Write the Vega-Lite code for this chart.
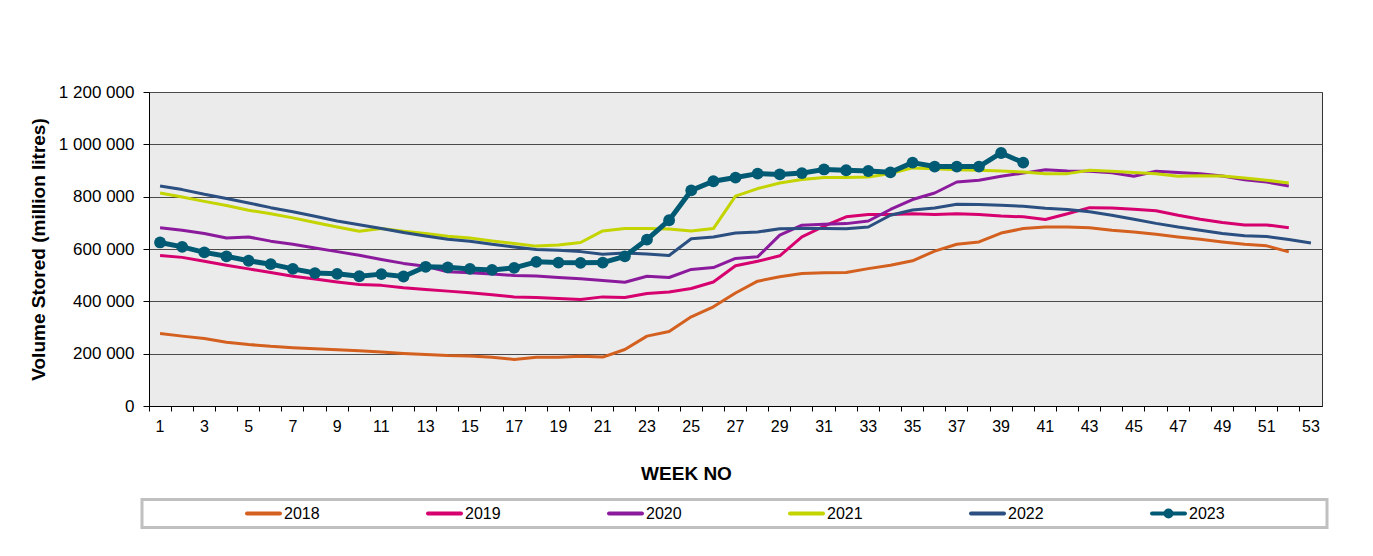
{
  "$schema": "https://vega.github.io/schema/vega-lite/v6.json",
  "width": 1173,
  "height": 314,
  "autosize": "none",
  "padding": {"left": 149, "top": 92, "right": 51, "bottom": 150},
  "background": "#ffffff",
  "config": {
    "font": "Liberation Sans",
    "view": {"fill": "#ebebeb", "stroke": "#333333", "strokeWidth": 1}
  },
  "data": {
    "values": [
      {"week": 1, "2018": 277000, "2019": 575000, "2020": 681000, "2021": 814000, "2022": 841000, "2023": 625000},
      {"week": 2, "2018": 267000, "2019": 568000, "2020": 672000, "2021": 799000, "2022": 827000, "2023": 608000},
      {"week": 3, "2018": 258000, "2019": 553000, "2020": 659000, "2021": 782000, "2022": 809000, "2023": 587000},
      {"week": 4, "2018": 244000, "2019": 538000, "2020": 642000, "2021": 766000, "2022": 793000, "2023": 572000},
      {"week": 5, "2018": 235000, "2019": 524000, "2020": 646000, "2021": 748000, "2022": 776000, "2023": 555000},
      {"week": 6, "2018": 228000, "2019": 510000, "2020": 630000, "2021": 735000, "2022": 758000, "2023": 542000},
      {"week": 7, "2018": 223000, "2019": 496000, "2020": 618000, "2021": 719000, "2022": 742000, "2023": 524000},
      {"week": 8, "2018": 219000, "2019": 485000, "2020": 604000, "2021": 701000, "2022": 725000, "2023": 508000},
      {"week": 9, "2018": 215000, "2019": 474000, "2020": 590000, "2021": 684000, "2022": 707000, "2023": 505000},
      {"week": 10, "2018": 211000, "2019": 464000, "2020": 576000, "2021": 668000, "2022": 693000, "2023": 496000},
      {"week": 11, "2018": 206000, "2019": 461000, "2020": 560000, "2021": 678000, "2022": 678000, "2023": 504000},
      {"week": 12, "2018": 201000, "2019": 452000, "2020": 545000, "2021": 668000, "2022": 663000, "2023": 495000},
      {"week": 13, "2018": 197000, "2019": 445000, "2020": 534000, "2021": 659000, "2022": 650000, "2023": 532000},
      {"week": 14, "2018": 193000, "2019": 439000, "2020": 513000, "2021": 649000, "2022": 637000, "2023": 530000},
      {"week": 15, "2018": 191000, "2019": 433000, "2020": 509000, "2021": 642000, "2022": 630000, "2023": 524000},
      {"week": 16, "2018": 186000, "2019": 425000, "2020": 504000, "2021": 631000, "2022": 618000, "2023": 520000},
      {"week": 17, "2018": 178000, "2019": 417000, "2020": 499000, "2021": 621000, "2022": 608000, "2023": 528000},
      {"week": 18, "2018": 186000, "2019": 415000, "2020": 497000, "2021": 611000, "2022": 598000, "2023": 551000},
      {"week": 19, "2018": 186000, "2019": 411000, "2020": 491000, "2021": 615000, "2022": 595000, "2023": 548000},
      {"week": 20, "2018": 190000, "2019": 407000, "2020": 486000, "2021": 625000, "2022": 590000, "2023": 547000},
      {"week": 21, "2018": 187000, "2019": 417000, "2020": 480000, "2021": 669000, "2022": 580000, "2023": 548000},
      {"week": 22, "2018": 216000, "2019": 415000, "2020": 473000, "2021": 678000, "2022": 585000, "2023": 572000},
      {"week": 23, "2018": 267000, "2019": 430000, "2020": 496000, "2021": 678000, "2022": 581000, "2023": 636000},
      {"week": 24, "2018": 285000, "2019": 436000, "2020": 491000, "2021": 676000, "2022": 575000, "2023": 710000},
      {"week": 25, "2018": 341000, "2019": 449000, "2020": 522000, "2021": 669000, "2022": 639000, "2023": 824000},
      {"week": 26, "2018": 379000, "2019": 474000, "2020": 529000, "2021": 678000, "2022": 646000, "2023": 859000},
      {"week": 27, "2018": 432000, "2019": 536000, "2020": 564000, "2021": 802000, "2022": 661000, "2023": 873000},
      {"week": 28, "2018": 477000, "2019": 553000, "2020": 570000, "2021": 831000, "2022": 665000, "2023": 888000},
      {"week": 29, "2018": 494000, "2019": 574000, "2020": 653000, "2021": 852000, "2022": 677000, "2023": 885000},
      {"week": 30, "2018": 506000, "2019": 646000, "2020": 691000, "2021": 866000, "2022": 678000, "2023": 890000},
      {"week": 31, "2018": 509000, "2019": 687000, "2020": 695000, "2021": 873000, "2022": 678000, "2023": 904000},
      {"week": 32, "2018": 510000, "2019": 723000, "2020": 697000, "2021": 873000, "2022": 677000, "2023": 901000},
      {"week": 33, "2018": 525000, "2019": 732000, "2020": 707000, "2021": 875000, "2022": 684000, "2023": 898000},
      {"week": 34, "2018": 538000, "2019": 732000, "2020": 751000, "2021": 888000, "2022": 729000, "2023": 893000},
      {"week": 35, "2018": 555000, "2019": 735000, "2020": 789000, "2021": 910000, "2022": 749000, "2023": 930000},
      {"week": 36, "2018": 592000, "2019": 732000, "2020": 814000, "2021": 907000, "2022": 757000, "2023": 915000},
      {"week": 37, "2018": 618000, "2019": 735000, "2020": 856000, "2021": 903000, "2022": 771000, "2023": 915000},
      {"week": 38, "2018": 627000, "2019": 732000, "2020": 863000, "2021": 901000, "2022": 770000, "2023": 915000},
      {"week": 39, "2018": 661000, "2019": 726000, "2020": 878000, "2021": 898000, "2022": 767000, "2023": 967000},
      {"week": 40, "2018": 678000, "2019": 723000, "2020": 890000, "2021": 894000, "2022": 763000, "2023": 930000},
      {"week": 41, "2018": 684000, "2019": 713000, "2020": 903000, "2021": 888000, "2022": 756000},
      {"week": 42, "2018": 684000, "2019": 735000, "2020": 898000, "2021": 888000, "2022": 751000},
      {"week": 43, "2018": 681000, "2019": 758000, "2020": 897000, "2021": 901000, "2022": 742000},
      {"week": 44, "2018": 672000, "2019": 757000, "2020": 891000, "2021": 897000, "2022": 729000},
      {"week": 45, "2018": 665000, "2019": 752000, "2020": 878000, "2021": 892000, "2022": 714000},
      {"week": 46, "2018": 656000, "2019": 746000, "2020": 897000, "2021": 888000, "2022": 698000},
      {"week": 47, "2018": 646000, "2019": 729000, "2020": 892000, "2021": 878000, "2022": 684000},
      {"week": 48, "2018": 637000, "2019": 714000, "2020": 888000, "2021": 880000, "2022": 672000},
      {"week": 49, "2018": 627000, "2019": 701000, "2020": 879000, "2021": 879000, "2022": 659000},
      {"week": 50, "2018": 618000, "2019": 692000, "2020": 865000, "2021": 871000, "2022": 651000},
      {"week": 51, "2018": 612000, "2019": 692000, "2020": 856000, "2021": 863000, "2022": 648000},
      {"week": 52, "2018": 589000, "2019": 681000, "2020": 841000, "2021": 852000, "2022": 636000},
      {"week": 53, "2022": 623000}
    ]
  },
  "transform": [
    {"fold": ["2018", "2019", "2020", "2021", "2022", "2023"], "as": ["year", "volume"]},
    {"filter": "datum.volume != null"}
  ],
  "encoding": {
    "x": {
      "field": "week",
      "type": "ordinal",
      "scale": {"type": "band", "paddingInner": 0, "paddingOuter": 0},
      "axis": {
        "title": "WEEK NO",
        "titleFontSize": 19,
        "titleFontWeight": "bold",
        "titleColor": "#000000",
        "titleX": 537,
        "titlePadding": 30,
        "bandPosition": 0,
        "labelAngle": 0,
        "labelOverlap": false,
        "labelExpr": "datum.value % 2 == 1 ? datum.label : ''",
        "labelFontSize": 16,
        "labelColor": "#000000",
        "labelPadding": 7,
        "tickSize": 5,
        "tickColor": "#000000",
        "domainColor": "#000000",
        "grid": false
      }
    },
    "y": {
      "field": "volume",
      "type": "quantitative",
      "scale": {"domain": [0, 1200000], "nice": false},
      "axis": {
        "title": "Volume Stored (million litres)",
        "titleFontSize": 19,
        "titleFontWeight": "bold",
        "titleColor": "#000000",
        "titlePadding": 10,
        "values": [0, 200000, 400000, 600000, 800000, 1000000, 1200000],
        "labelExpr": "replace(format(datum.value, ','), regexp(',', 'g'), ' ')",
        "labelFontSize": 17,
        "labelColor": "#000000",
        "labelPadding": 9,
        "tickSize": 6,
        "tickColor": "#000000",
        "domainColor": "#000000",
        "grid": true,
        "gridColor": "#4a4a4a",
        "gridWidth": 1
      }
    }
  },
  "layer": [
    {
      "mark": {"type": "line", "strokeJoin": "round"},
      "encoding": {
        "color": {
          "field": "year",
          "type": "nominal",
          "scale": {
            "domain": ["2018", "2019", "2020", "2021", "2022", "2023"],
            "range": ["#d4601f", "#d6006f", "#8b1b9c", "#c3d400", "#2a4f80", "#005a73"]
          },
          "legend": {
            "orient": "none",
            "legendX": -7,
            "legendY": 407.5,
            "direction": "horizontal",
            "columns": 6,
            "title": ".",
            "titleOrient": "right",
            "titleColor": "#ffffff",
            "titleFontSize": 16,
            "titlePadding": 91,
            "symbolType": "stroke",
            "symbolSize": 1089,
            "symbolStrokeWidth": 4,
            "symbolOffset": 97,
            "labelFontSize": 16,
            "labelColor": "#000000",
            "labelOffset": 2,
            "labelLimit": 400,
            "columnPadding": 9,
            "clipHeight": 16,
            "padding": 6,
            "fillColor": "#ffffff",
            "strokeColor": "#c0c0c0",
            "encode": {
              "legend": {"update": {"strokeWidth": {"value": 3}}},
              "symbols": {
                "update": {
                  "shape": {"signal": "datum.value == '2023' ? 'M-1,0H1M0.18,0A0.18,0.18,0,1,1,-0.18,0A0.18,0.18,0,1,1,0.18,0' : 'stroke'"},
                  "strokeCap": {"value": "round"}
                }
              }
            }
          }
        },
        "strokeWidth": {"condition": {"test": "datum.year == '2023'", "value": 5}, "value": 3}
      }
    },
    {
      "transform": [{"filter": "datum.year == '2023'"}],
      "mark": {"type": "point", "filled": true, "size": 140, "opacity": 1, "color": "#005a73"}
    }
  ]
}
